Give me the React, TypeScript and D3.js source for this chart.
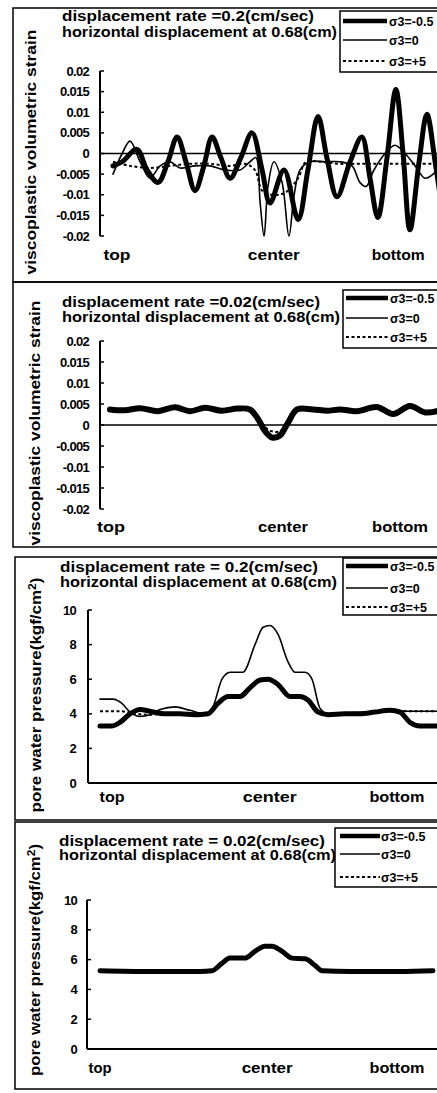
import React from "react";
import * as d3 from "d3";

// ---------- shared labels ----------
const SERIES_NAMES = ["σ3=-0.5", "σ3=0", "σ3=+5"];
const X_CATEGORIES = ["top", "center", "bottom"];
const STRAIN_TICKS = [0.02, 0.015, 0.01, 0.005, 0, -0.005, -0.01, -0.015, -0.02];
const STRAIN_TICK_LABELS = ["0.02", "0.015", "0.01", "0.005", "0", "-0.005", "-0.01", "-0.015", "-0.02"];
const PWP_TICKS = [10, 8, 6, 4, 2, 0];
const PWP_TICK_LABELS = ["10", "8", "6", "4", "2", "0"];
const STRAIN_LABEL = "viscoplastic volumetric strain";

// ---------- panel 1: strain, 0.2 cm/sec ----------
const P1_TITLE = ["displacement rate =0.2(cm/sec)", "horizontal displacement at 0.68(cm)"];
const P1_CAT_POS = [1.2, 49.2, 87.2];
const P1_A_POS = [0, 2.8, 7.3, 10.4, 13.8, 16.8, 19.6, 22.3, 25.1, 27.8, 30.3, 33.0, 35.8, 39.1, 42.5, 45.6, 48.0, 52.3, 56.6, 59.6, 62.7, 65.4, 68.5, 72.5, 76.1, 78.6, 81.0, 83.8, 86.5, 88.7, 90.8, 93.6, 96.0, 98.5, 100];
const P1_A_VAL = [-0.003, -0.002, 0.001, -0.004, -0.007, -0.002, 0.004, -0.002, -0.009, -0.003, 0.004, -0.001, -0.006, -0.001, 0.005, -0.004, -0.012, -0.004, -0.016, -0.004, 0.009, -0.001, -0.0105, -0.002, 0.004, -0.006, -0.0155, -0.001, 0.0155, 0.0, -0.0185, -0.002, 0.0095, -0.002, -0.01];
const P1_B_POS = [0, 2.8, 5.2, 8.3, 11.3, 14.4, 17.4, 20.5, 25.1, 29.7, 34.3, 38.8, 41.9, 43.7, 45.0, 46.2, 47.4, 49.2, 51.7, 53.8, 55.4, 57.2, 60.2, 64.8, 69.4, 73.1, 75.5, 77.4, 79.8, 83.2, 86.2, 89.3, 92.4, 95.4, 97.9, 100];
const P1_B_VAL = [-0.005, 0.0, 0.003, -0.002, -0.006, -0.003, -0.002, -0.0035, -0.003, -0.003, -0.004, -0.004, -0.002, -0.001, -0.012, -0.02, -0.008, -0.002, -0.007, -0.02, -0.01, -0.004, -0.002, -0.002, -0.002, -0.003, -0.007, -0.008, -0.004, 0.0, 0.002, 0.0, -0.003, -0.006, -0.005, -0.003];
const P1_C_POS = [0, 5.2, 11.3, 17.4, 23.5, 29.7, 35.8, 40.4, 43.4, 45.6, 48.6, 52.6, 56.6, 59.0, 63.3, 69.4, 75.5, 81.7, 87.8, 93.9, 100];
const P1_C_VAL = [-0.002, -0.003, -0.0035, -0.003, -0.0025, -0.0025, -0.003, -0.0025, -0.004, -0.009, -0.01, -0.0095, -0.006, -0.002, -0.002, -0.0025, -0.0025, -0.0025, -0.0025, -0.0025, -0.0025];

// ---------- panel 2: strain, 0.02 cm/sec ----------
const P2_TITLE = ["displacement rate =0.02(cm/sec)", "horizontal displacement at 0.68(cm)"];
const P2_CAT_POS = [0.3, 52.4, 87.9];
const P2_POS = [0, 4.5, 9.1, 14.5, 19.7, 24.2, 28.8, 33.9, 38.5, 42.4, 44.8, 47.0, 49.1, 51.5, 53.9, 56.7, 61.5, 65.8, 69.7, 74.8, 80.9, 85.8, 90.9, 95.5, 100];
const P2_A_VAL = [0.0037, 0.0035, 0.004, 0.0033, 0.0042, 0.0033, 0.0041, 0.0034, 0.0039, 0.0037, 0.0015, -0.0015, -0.003, -0.0025, 0.0005, 0.0037, 0.0037, 0.0034, 0.0037, 0.0033, 0.0043, 0.0026, 0.0045, 0.003, 0.0035];
const P2_B_VAL = [0.0036, 0.0036, 0.0038, 0.0034, 0.004, 0.0034, 0.004, 0.0035, 0.0038, 0.0037, 0.0018, -0.0008, -0.0025, -0.002, 0.0008, 0.0039, 0.0038, 0.0035, 0.0038, 0.0035, 0.004, 0.0028, 0.005, 0.0032, 0.0036];
const P2_C_VAL = [0.0036, 0.0035, 0.0039, 0.0034, 0.0041, 0.0034, 0.004, 0.0035, 0.0038, 0.0037, 0.0018, -0.0005, -0.0015, -0.0015, 0.0008, 0.0038, 0.0037, 0.0035, 0.0037, 0.0034, 0.0042, 0.0027, 0.0046, 0.0031, 0.0035];

// ---------- panel 3: pore pressure, 0.2 cm/sec ----------
const P3_TITLE = ["displacement rate = 0.2(cm/sec)", "horizontal displacement at 0.68(cm)"];
const P3_CAT_POS = [3.6, 50.4, 88.1];
const P3_A_POS = [0, 3.6, 5.9, 8.9, 11.9, 14.8, 19.3, 23.7, 28.2, 32.0, 35.0, 38.0, 41.5, 44.5, 47.5, 49.9, 52.8, 56.4, 59.3, 61.7, 64.7, 67.7, 72.7, 77.2, 81.6, 86.1, 89.0, 92.0, 95.0, 100];
const P3_A_VAL = [3.3, 3.3, 3.5, 4.0, 4.25, 4.15, 4.0, 4.0, 3.95, 4.0, 4.6, 5.0, 5.0, 5.5, 5.95, 6.0, 5.7, 5.0, 5.0, 4.8, 4.1, 3.95, 4.0, 4.0, 4.1, 4.2, 4.1, 3.5, 3.3, 3.3];
const P3_B_POS = [0, 3.9, 6.5, 8.9, 11.9, 14.8, 17.8, 22.3, 26.7, 31.2, 33.5, 36.2, 38.6, 42.4, 46.0, 48.4, 50.4, 52.8, 55.8, 57.9, 60.8, 62.9, 65.3, 67.7, 72.7, 80.1, 86.1, 90.5, 95.0, 100];
const P3_B_VAL = [4.85, 4.85, 4.6, 4.1, 3.85, 3.95, 4.25, 4.4, 4.2, 4.0, 4.4, 6.0, 6.4, 6.4, 8.0, 9.0, 9.1, 8.6, 7.0, 6.4, 6.4, 6.0, 4.3, 4.0, 4.05, 4.1, 4.25, 4.15, 4.15, 4.15];
const P3_C_POS = [0, 5.9, 10.4, 14.8, 20.8, 28.2, 32.0, 35.0, 38.0, 41.5, 44.5, 47.5, 49.9, 52.8, 56.4, 59.3, 61.7, 64.7, 67.7, 77.2, 86.1, 92.0, 100];
const P3_C_VAL = [4.15, 4.15, 4.0, 3.95, 4.0, 4.0, 4.05, 4.6, 5.0, 5.0, 5.5, 5.95, 6.0, 5.7, 5.0, 5.0, 4.8, 4.1, 4.0, 4.05, 4.2, 4.15, 4.15];

// ---------- panel 4: pore pressure, 0.02 cm/sec ----------
const P4_TITLE = ["displacement rate = 0.02(cm/sec)", "horizontal displacement at 0.68(cm)"];
const P4_CAT_POS = [0, 50.2, 89.2];
const P4_POS = [0, 15.0, 30.0, 33.6, 36.6, 39.0, 43.5, 46.5, 49.5, 51.7, 54.7, 57.7, 61.6, 64.6, 66.7, 75.1, 90.1, 100];
const P4_A_VAL = [5.25, 5.2, 5.2, 5.25, 5.75, 6.1, 6.1, 6.55, 6.9, 6.9, 6.55, 6.1, 6.05, 5.6, 5.25, 5.2, 5.2, 5.25];
const P4_B_VAL = [5.25, 5.2, 5.2, 5.25, 5.75, 6.1, 6.1, 6.55, 6.9, 6.9, 6.55, 6.1, 6.05, 5.6, 5.25, 5.2, 5.2, 5.25];
const P4_C_VAL = [5.25, 5.2, 5.2, 5.25, 5.75, 6.1, 6.1, 6.55, 6.9, 6.9, 6.55, 6.1, 6.05, 5.6, 5.25, 5.2, 5.2, 5.25];

const FONT = "'Liberation Sans', Arial, Helvetica, sans-serif";

const STYLES = [
  { width: 5, dash: "" },
  { width: 1.6, dash: "" },
  { width: 2, dash: "3,2.5" },
];

type Series = { pos: number[]; val: number[] };

type PanelProps = {
  frame: { x: number; y: number; x2: number; y2: number };
  title: string[];
  titleX: number;
  titleY: number[];
  titleW: number[];
  legend: { x: number; y: number; h: number; rows: number[]; lx1: number; lx2: number; tx: number };
  yLabel: "strain" | "pwp";
  yLabelX: number;
  yLabelCY: number;
  yLabelLen: number;
  axisX: number;
  yDomain: [number, number];
  yRange: [number, number];
  ticks: number[];
  tickLabels: string[];
  tickLabelX: number;
  xRange: [number, number];
  xAxisEnd: number;
  catPos: number[];
  catW: number[];
  catY: number;
  series: Series[];
  thick: number;
  curve: any;
};

function Panel(p: PanelProps) {
  const x = d3.scaleLinear().domain([0, 100]).range(p.xRange);
  const y = d3.scaleLinear().domain(p.yDomain).range(p.yRange);
  const y0 = y(0);
  const lines = p.series.map((s) =>
    d3
      .line<number>()
      .x((_, i) => x(s.pos[i]))
      .y((v) => y(v))
      .curve(p.curve)(s.val)
  );
  const lg = p.legend;
  return (
    <g>
      <rect
        x={p.frame.x}
        y={p.frame.y}
        width={p.frame.x2 - p.frame.x}
        height={p.frame.y2 - p.frame.y}
        fill="none"
        stroke="#000"
        strokeWidth={1.5}
      />
      {p.title.map((t, i) => (
        <text
          key={i}
          x={p.titleX}
          y={p.titleY[i]}
          fontFamily={FONT}
          fontWeight="bold"
          fontSize={14.5}
          textLength={p.titleW[i]}
          lengthAdjust="spacingAndGlyphs"
        >
          {t}
        </text>
      ))}
      {/* legend */}
      <rect x={lg.x} y={lg.y} width={460 - lg.x} height={lg.h} fill="#fff" stroke="#000" strokeWidth={1.5} />
      {SERIES_NAMES.map((name, i) => (
        <g key={name}>
          <line
            x1={lg.lx1}
            x2={lg.lx2}
            y1={lg.rows[i]}
            y2={lg.rows[i]}
            stroke="#000"
            strokeWidth={i === 0 ? 4.5 : STYLES[i].width}
            strokeDasharray={STYLES[i].dash}
          />
          <text x={lg.tx} y={lg.rows[i] + 4.5} fontFamily={FONT} fontWeight="bold" fontSize={12.5}>
            {name}
          </text>
        </g>
      ))}
      {/* y label */}
      {p.yLabel === "strain" ? (
        <text
          transform={`translate(${p.yLabelX},${p.yLabelCY}) rotate(-90)`}
          textAnchor="middle"
          dy="0.35em"
          fontFamily={FONT}
          fontWeight="bold"
          fontSize={15.5}
          textLength={p.yLabelLen}
          lengthAdjust="spacingAndGlyphs"
        >
          {STRAIN_LABEL}
        </text>
      ) : (
        <text
          transform={`translate(${p.yLabelX},${p.yLabelCY}) rotate(-90)`}
          textAnchor="middle"
          dy="0.35em"
          fontFamily={FONT}
          fontWeight="bold"
          fontSize={14}
          textLength={p.yLabelLen}
          lengthAdjust="spacingAndGlyphs"
        >
          pore water pressure(kgf/cm
          <tspan dy="-5" fontSize={10}>2</tspan>
          <tspan dy="5">)</tspan>
        </text>
      )}
      {/* y axis */}
      <line x1={p.axisX} x2={p.axisX} y1={y(p.yDomain[1])} y2={y(p.yDomain[0])} stroke="#000" strokeWidth={2} />
      {p.ticks.map((t, i) => (
        <g key={i}>
          <line x1={p.axisX} x2={p.axisX + 4} y1={y(t)} y2={y(t)} stroke="#000" strokeWidth={1.5} />
          <text
            x={p.tickLabelX}
            y={y(t)}
            dy="0.35em"
            textAnchor="end"
            fontFamily={FONT}
            fontWeight="bold"
            fontSize={13}
            letterSpacing={-0.7}
          >
            {p.tickLabels[i]}
          </text>
        </g>
      ))}
      {/* x axis at zero */}
      <line x1={p.axisX} x2={p.xAxisEnd} y1={y0} y2={y0} stroke="#000" strokeWidth={p.yLabel === "strain" ? 1.6 : 2} />
      {/* category labels */}
      {X_CATEGORIES.map((c, i) => (
        <text
          key={c}
          x={x(p.catPos[i])}
          y={p.catY}
          textAnchor="middle"
          fontFamily={FONT}
          fontWeight="bold"
          fontSize={15}
          textLength={p.catW[i]}
          lengthAdjust="spacingAndGlyphs"
        >
          {c}
        </text>
      ))}
      {/* series, drawn so the thick one is on top where they overlap */}
      {[2, 1, 0].map((i) => (
        <path
          key={i}
          d={lines[i] || ""}
          fill="none"
          stroke="#000"
          strokeWidth={i === 0 ? p.thick : STYLES[i].width}
          strokeDasharray={STYLES[i].dash}
          strokeLinejoin="round"
          strokeLinecap={i === 2 ? "butt" : "round"}
        />
      ))}
    </g>
  );
}

export default function App() {
  const catmull = d3.curveCatmullRom.alpha(0.5);
  const mono = d3.curveMonotoneX;
  return (
    <svg
      width={437}
      height={1093}
      viewBox="0 0 437 1093"
      style={{ position: "absolute", left: 0, top: 0, background: "#fff" }}
    >
      <rect x={0} y={0} width={437} height={1093} fill="#fff" />
      <Panel
        frame={{ x: 13, y: 8, x2: 460, y2: 282 }}
        title={P1_TITLE}
        titleX={62}
        titleY={[21, 37]}
        titleW={[252, 275]}
        legend={{ x: 340, y: 11, h: 61, rows: [21, 40, 61], lx1: 343, lx2: 387, tx: 389 }}
        yLabel="strain"
        yLabelX={31}
        yLabelCY={152}
        yLabelLen={245}
        axisX={100}
        yDomain={[-0.02, 0.02]}
        yRange={[236, 71]}
        ticks={STRAIN_TICKS}
        tickLabels={STRAIN_TICK_LABELS}
        tickLabelX={89}
        xRange={[113, 440]}
        xAxisEnd={440}
        catPos={P1_CAT_POS}
        catW={[27, 52, 53]}
        catY={260}
        series={[
          { pos: P1_A_POS, val: P1_A_VAL },
          { pos: P1_B_POS, val: P1_B_VAL },
          { pos: P1_C_POS, val: P1_C_VAL },
        ]}
        thick={5}
        curve={catmull}
      />
      <Panel
        frame={{ x: 13, y: 282, x2: 460, y2: 547 }}
        title={P2_TITLE}
        titleX={62}
        titleY={[307, 322]}
        titleW={[258, 278]}
        legend={{ x: 343, y: 290, h: 58, rows: [298, 318, 337], lx1: 346, lx2: 388, tx: 390 }}
        yLabel="strain"
        yLabelX={35}
        yLabelCY={423}
        yLabelLen={245}
        axisX={100}
        yDomain={[-0.02, 0.02]}
        yRange={[509, 341]}
        ticks={STRAIN_TICKS}
        tickLabels={STRAIN_TICK_LABELS}
        tickLabelX={89}
        xRange={[110, 440]}
        xAxisEnd={440}
        catPos={P2_CAT_POS}
        catW={[28, 50, 56]}
        catY={532}
        series={[
          { pos: P2_POS, val: P2_A_VAL },
          { pos: P2_POS, val: P2_B_VAL },
          { pos: P2_POS, val: P2_C_VAL },
        ]}
        thick={6}
        curve={catmull}
      />
      <Panel
        frame={{ x: 15, y: 557, x2: 460, y2: 820 }}
        title={P3_TITLE}
        titleX={60}
        titleY={[572, 587]}
        titleW={[258, 277]}
        legend={{ x: 343, y: 558, h: 57, rows: [566, 588, 607], lx1: 346, lx2: 388, tx: 390 }}
        yLabel="pwp"
        yLabelX={36}
        yLabelCY={695}
        yLabelLen={235}
        axisX={88}
        yDomain={[0, 10]}
        yRange={[783, 610]}
        ticks={PWP_TICKS}
        tickLabels={PWP_TICK_LABELS}
        tickLabelX={76}
        xRange={[100, 437]}
        xAxisEnd={440}
        catPos={P3_CAT_POS}
        catW={[25, 54, 55]}
        catY={802}
        series={[
          { pos: P3_A_POS, val: P3_A_VAL },
          { pos: P3_B_POS, val: P3_B_VAL },
          { pos: P3_C_POS, val: P3_C_VAL },
        ]}
        thick={5}
        curve={mono}
      />
      <Panel
        frame={{ x: 15, y: 822, x2: 460, y2: 1089 }}
        title={P4_TITLE}
        titleX={59}
        titleY={[846, 860]}
        titleW={[266, 277]}
        legend={{ x: 335, y: 828, h: 59, rows: [836, 854, 877], lx1: 340, lx2: 380, tx: 381 }}
        yLabel="pwp"
        yLabelX={35}
        yLabelCY={960}
        yLabelLen={232}
        axisX={87}
        yDomain={[0, 10]}
        yRange={[1049, 900]}
        ticks={PWP_TICKS}
        tickLabels={PWP_TICK_LABELS}
        tickLabelX={77}
        xRange={[100, 433]}
        xAxisEnd={437}
        catPos={P4_CAT_POS}
        catW={[23, 51, 55]}
        catY={1073}
        series={[
          { pos: P4_POS, val: P4_A_VAL },
          { pos: P4_POS, val: P4_B_VAL },
          { pos: P4_POS, val: P4_C_VAL },
        ]}
        thick={5}
        curve={mono}
      />
    </svg>
  );
}
